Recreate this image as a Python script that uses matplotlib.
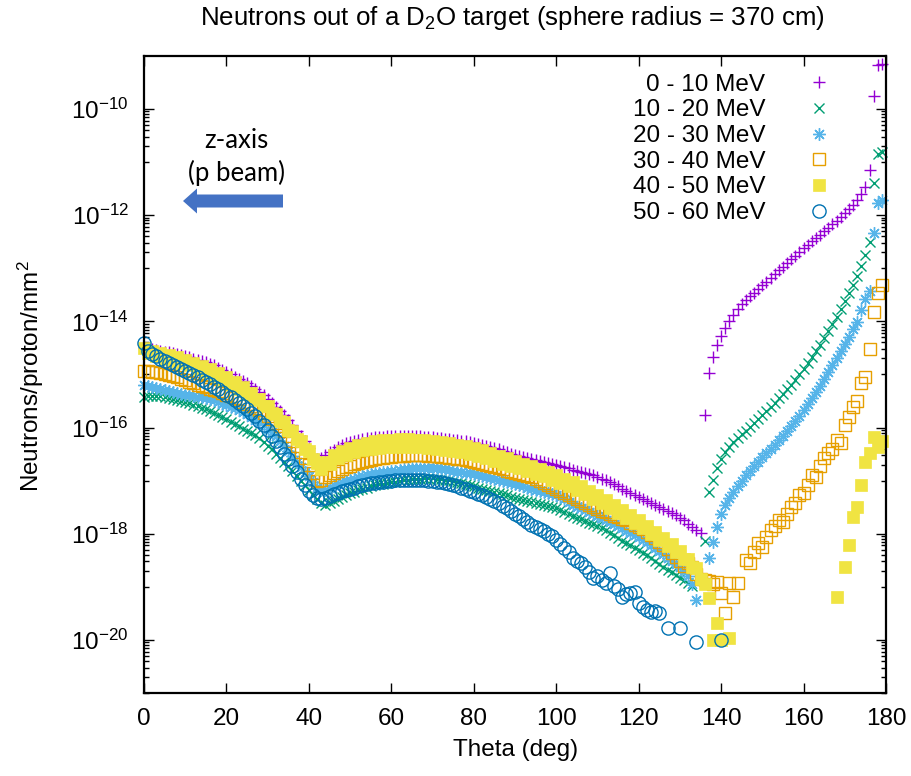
import numpy as np
import matplotlib
matplotlib.use("Agg")
import matplotlib.pyplot as plt
from matplotlib.ticker import FixedLocator, FuncFormatter, NullFormatter, NullLocator
from matplotlib.patches import FancyArrow

nan = float("nan")

# Polar angle of the scoring bins (deg)
theta = list(range(180))

# log10 of the neutron fluence (neutrons / proton / mm^2) per energy bin
log_flux_0_10 = [
    -14.50, -14.51, -14.52, -14.54, -14.55, -14.57, -14.58, -14.60, -14.62, -14.64,
    -14.66, -14.68, -14.70, -14.72, -14.74, -14.77, -14.80, -14.83, -14.87, -14.92,
    -14.96, -15.00, -15.04, -15.08, -15.12, -15.16, -15.21, -15.27, -15.33, -15.39,
    -15.46, -15.53, -15.61, -15.69, -15.77, -15.86, -15.96, -16.06, -16.16, -16.26,
    -16.38, -16.50, -16.60, -16.57, -16.52, -16.47, -16.42, -16.37, -16.33, -16.30,
    -16.27, -16.25, -16.23, -16.21, -16.20, -16.19, -16.18, -16.17, -16.17, -16.16,
    -16.16, -16.15, -16.15, -16.15, -16.15, -16.15, -16.16, -16.16, -16.17, -16.17,
    -16.18, -16.19, -16.20, -16.21, -16.22, -16.23, -16.24, -16.25, -16.26, -16.27,
    -16.29, -16.31, -16.33, -16.35, -16.37, -16.39, -16.41, -16.44, -16.47, -16.49,
    -16.51, -16.53, -16.55, -16.57, -16.59, -16.61, -16.63, -16.65, -16.67, -16.69,
    -16.71, -16.73, -16.75, -16.77, -16.80, -16.82, -16.84, -16.86, -16.88, -16.90,
    -16.93, -16.96, -16.99, -17.03, -17.07, -17.11, -17.15, -17.19, -17.23, -17.27,
    -17.31, -17.35, -17.39, -17.43, -17.46, -17.50, -17.53, -17.57, -17.61, -17.65,
    -17.70, -17.75, -17.81, -17.87, -17.93, -17.99, -15.76, -14.97, -14.67, -14.44,
    -14.27, -14.12, -13.99, -13.88, -13.76, -13.68, -13.60, -13.53, -13.46, -13.39,
    -13.32, -13.25, -13.18, -13.11, -13.04, -12.97, -12.90, -12.83, -12.76, -12.69,
    -12.62, -12.56, -12.49, -12.43, -12.37, -12.30, -12.24, -12.17, -12.10, -12.03,
    -11.96, -11.88, -11.80, -11.71, -11.60, -11.47, -11.15, -9.75, -9.17, -9.15,
]

log_flux_10_20 = [
    -15.42, -15.41, -15.40, -15.40, -15.41, -15.42, -15.44, -15.46, -15.48, -15.50,
    -15.52, -15.54, -15.57, -15.60, -15.63, -15.66, -15.69, -15.72, -15.76, -15.80,
    -15.84, -15.89, -15.94, -15.98, -16.02, -16.06, -16.10, -16.14, -16.20, -16.27,
    -16.34, -16.41, -16.49, -16.57, -16.65, -16.73, -16.82, -16.91, -17.00, -17.09,
    -17.18, -17.27, -17.35, -17.42, -17.45, -17.43, -17.39, -17.35, -17.31, -17.28,
    -17.24, -17.21, -17.18, -17.15, -17.13, -17.11, -17.09, -17.07, -17.06, -17.04,
    -17.03, -17.02, -17.00, -16.99, -16.98, -16.97, -16.96, -16.96, -16.95, -16.95,
    -16.95, -16.96, -16.97, -16.98, -16.99, -17.01, -17.03, -17.05, -17.07, -17.09,
    -17.11, -17.13, -17.15, -17.17, -17.20, -17.22, -17.24, -17.26, -17.28, -17.30,
    -17.32, -17.34, -17.36, -17.38, -17.40, -17.42, -17.44, -17.46, -17.48, -17.50,
    -17.52, -17.55, -17.59, -17.63, -17.67, -17.70, -17.73, -17.76, -17.79, -17.82,
    -17.85, -17.89, -17.93, -17.98, -18.03, -18.08, -18.13, -18.17, -18.22, -18.26,
    -18.31, -18.36, -18.41, -18.46, -18.52, -18.57, -18.63, -18.68, -18.73, -18.78,
    -18.83, -18.88, -18.93, -18.98, nan, nan, -18.14, -17.22, -16.99, -16.76,
    -16.60, -16.47, -16.37, -16.28, -16.20, -16.13, -16.06, -15.99, -15.91, -15.84,
    -15.76, -15.69, -15.61, -15.53, -15.45, -15.37, -15.28, -15.19, -15.10, -15.00,
    -14.90, -14.79, -14.68, -14.56, -14.44, -14.31, -14.18, -14.05, -13.91, -13.77,
    -13.62, -13.47, -13.31, -13.15, -12.95, -12.75, -12.50, -11.39, -10.85, -10.80,
]

log_flux_20_30 = [
    -15.20, -15.22, -15.24, -15.26, -15.28, -15.30, -15.32, -15.33, -15.35, -15.36,
    -15.38, -15.39, -15.40, -15.42, -15.43, -15.45, -15.47, -15.49, -15.52, -15.55,
    -15.58, -15.61, -15.64, -15.67, -15.71, -15.75, -15.80, -15.85, -15.90, -15.96,
    -16.02, -16.08, -16.16, -16.25, -16.34, -16.44, -16.54, -16.64, -16.74, -16.83,
    -16.92, -17.02, -17.12, -17.18, -17.17, -17.13, -17.09, -17.06, -17.03, -17.01,
    -16.98, -16.96, -16.94, -16.92, -16.90, -16.88, -16.86, -16.85, -16.84, -16.83,
    -16.82, -16.81, -16.80, -16.79, -16.78, -16.77, -16.77, -16.76, -16.76, -16.76,
    -16.77, -16.77, -16.78, -16.79, -16.80, -16.81, -16.83, -16.84, -16.85, -16.86,
    -16.88, -16.89, -16.91, -16.93, -16.95, -16.97, -16.99, -17.01, -17.03, -17.05,
    -17.07, -17.09, -17.11, -17.13, -17.15, -17.17, -17.19, -17.21, -17.23, -17.25,
    -17.28, -17.31, -17.35, -17.40, -17.45, -17.49, -17.52, -17.56, -17.59, -17.63,
    -17.66, -17.70, -17.74, -17.78, -17.82, -17.86, -17.90, -17.94, -17.98, -18.02,
    -18.06, -18.11, -18.16, -18.21, -18.27, -18.33, -18.39, -18.45, -18.51, -18.57,
    -18.63, -18.70, -18.80, -18.95, -19.25, nan, nan, -18.46, -18.16, -17.87,
    -17.62, -17.45, -17.33, -17.21, -17.10, -17.00, -16.90, -16.81, -16.72, -16.64,
    -16.56, -16.48, -16.40, -16.32, -16.24, -16.16, -16.07, -15.98, -15.88, -15.78,
    -15.67, -15.56, -15.45, -15.33, -15.21, -15.08, -14.95, -14.82, -14.69, -14.56,
    -14.43, -14.29, -14.15, -14.01, -13.78, -13.58, -13.42, -12.33, -11.77, -11.72,
]

log_flux_30_40 = [
    -14.93, -14.94, -14.95, -14.96, -14.97, -14.99, -15.01, -15.03, -15.05, -15.08,
    -15.11, -15.14, -15.16, -15.19, -15.21, -15.24, -15.27, -15.29, -15.32, -15.35,
    -15.38, -15.41, -15.44, -15.47, -15.51, -15.55, -15.59, -15.63, -15.67, -15.72,
    -15.78, -15.84, -15.91, -15.98, -16.06, -16.15, -16.25, -16.35, -16.46, -16.57,
    -16.70, -16.85, -17.00, -16.98, -16.93, -16.89, -16.85, -16.81, -16.78, -16.75,
    -16.72, -16.69, -16.67, -16.65, -16.63, -16.61, -16.59, -16.58, -16.57, -16.56,
    -16.55, -16.54, -16.53, -16.53, -16.52, -16.52, -16.52, -16.52, -16.52, -16.53,
    -16.53, -16.54, -16.55, -16.56, -16.57, -16.58, -16.59, -16.60, -16.62, -16.63,
    -16.65, -16.67, -16.69, -16.71, -16.73, -16.75, -16.77, -16.79, -16.81, -16.83,
    -16.85, -16.87, -16.89, -16.91, -16.94, -16.97, -17.00, -17.04, -17.08, -17.12,
    -17.16, -17.19, -17.23, -17.27, -17.30, -17.34, -17.38, -17.42, -17.46, -17.50,
    -17.54, -17.57, -17.60, -17.63, -17.66, -17.69, -17.72, -17.75, -17.79, -17.83,
    -17.87, -17.92, -17.97, -18.03, -18.09, -18.16, -18.22, -18.29, -18.36, -18.44,
    -18.52, -18.60, -18.55, -18.62, -18.75, -18.85, -18.87, -18.90, -18.95, -18.91,
    -19.12, -19.49, -18.93, -19.19, -18.93, nan, -18.50, -18.55, -18.35, -18.18,
    -18.25, -18.06, -17.93, -17.85, -17.74, -17.78, -17.62, -17.50, -17.42, -17.28,
    -17.23, -17.08, -16.90, -16.93, -16.72, -16.58, -16.48, -16.40, -16.23, -16.29,
    -15.95, -15.80, -15.62, -15.50, -15.16, -15.05, -14.52, -13.82, -13.47, -13.31,
]

log_flux_40_50 = [
    -14.50, -14.60, -14.55, -14.66, -14.60, -14.70, -14.64, -14.74, -14.68, -14.78,
    -14.72, -14.83, -14.78, -14.89, -14.84, -14.95, -14.90, -15.02, -14.97, -15.10,
    -15.05, -15.18, -15.14, -15.27, -15.24, -15.37, -15.35, -15.48, -15.46, -15.60,
    -15.59, -15.73, -15.74, -15.88, -15.90, -16.04, -16.06, -16.22, -16.25, -16.40,
    -16.44, -16.60, -16.66, -16.78, -16.64, -16.68, -16.52, -16.58, -16.44, -16.52,
    -16.38, -16.47, -16.33, -16.43, -16.29, -16.40, -16.26, -16.38, -16.24, -16.37,
    -16.23, -16.36, -16.22, -16.36, -16.22, -16.36, -16.23, -16.37, -16.24, -16.38,
    -16.25, -16.40, -16.27, -16.42, -16.29, -16.44, -16.32, -16.47, -16.35, -16.50,
    -16.39, -16.54, -16.43, -16.58, -16.48, -16.63, -16.53, -16.68, -16.58, -16.73,
    -16.63, -16.77, -16.68, -16.82, -16.73, -16.87, -16.78, -16.92, -16.84, -16.98,
    -16.90, -17.04, -16.96, -17.10, -17.03, -17.17, -17.11, -17.25, -17.19, -17.34,
    -17.28, -17.43, -17.37, -17.52, -17.46, -17.61, -17.55, -17.70, -17.65, -17.80,
    -17.75, -17.90, -17.86, -18.01, -17.97, -18.12, -18.08, -18.23, -18.20, -18.35,
    -18.33, -18.48, -18.47, -18.62, -18.65, -18.85, -18.95, -19.22, -20.00, -19.68,
    -20.00, nan, -19.97, nan, nan, nan, nan, nan, nan, nan,
    nan, nan, nan, nan, nan, nan, nan, nan, nan, nan,
    nan, nan, nan, nan, nan, nan, nan, nan, -19.19, nan,
    -18.63, -18.21, -17.68, -17.50, -17.08, -16.65, -16.48, -16.18, -16.36, -16.25,
]

log_flux_50_60 = [
    -14.40, -14.55, -14.62, -14.66, -14.70, -14.74, -14.78, -14.82, -14.86, -14.90,
    -14.94, -14.97, -15.01, -15.05, -15.10, -15.14, -15.18, -15.23, -15.28, -15.33,
    -15.38, -15.43, -15.48, -15.53, -15.59, -15.65, -15.72, -15.79, -15.87, -15.96,
    -16.05, -16.15, -16.26, -16.37, -16.49, -16.60, -16.72, -16.84, -16.96, -17.08,
    -17.19, -17.27, -17.33, -17.35, -17.32, -17.29, -17.26, -17.23, -17.20, -17.18,
    -17.15, -17.13, -17.11, -17.09, -17.07, -17.05, -17.04, -17.03, -17.02, -17.01,
    -17.00, -16.99, -16.99, -16.98, -16.98, -16.98, -16.98, -16.99, -16.99, -17.00,
    -17.01, -17.02, -17.03, -17.05, -17.07, -17.09, -17.11, -17.13, -17.16, -17.19,
    -17.22, -17.25, -17.28, -17.31, -17.35, -17.39, -17.43, -17.47, -17.52, -17.57,
    -17.62, -17.67, -17.73, -17.78, -17.83, -17.87, -17.91, -17.95, -18.00, -18.05,
    -18.12, -18.20, -18.27, -18.35, -18.45, -18.52, -18.56, -18.62, -18.72, -18.83,
    -18.79, -18.88, -18.93, -18.74, -18.98, -19.05, -19.19, -19.14, -19.12, -19.10,
    -19.30, -19.38, -19.44, -19.47, -19.46, -19.49, nan, -19.77, nan, nan,
    -19.77, nan, nan, nan, -20.04, nan, nan, nan, nan, nan,
    -20.00, nan, nan, nan, nan, nan, nan, nan, nan, nan,
    nan, nan, nan, nan, nan, nan, nan, nan, nan, nan,
    nan, nan, nan, nan, nan, nan, nan, nan, nan, nan,
    nan, nan, nan, nan, nan, nan, nan, nan, nan, nan,
]

energy_labels = ["0 - 10 MeV", "10 - 20 MeV", "20 - 30 MeV",
                 "30 - 40 MeV", "40 - 50 MeV", "50 - 60 MeV"]
series_values = [log_flux_0_10, log_flux_10_20, log_flux_20_30,
                 log_flux_30_40, log_flux_40_50, log_flux_50_60]

marker_styles = [
    dict(marker="+", markersize=8, markeredgewidth=1.0, color="#9400d3"),
    dict(marker="x", markersize=7.5, markeredgewidth=1.0, color="#009e73"),
    dict(marker=(8, 2, 0), markersize=9, markeredgewidth=1.0, color="#56b4e9"),
    dict(marker="s", markersize=8.5, markeredgewidth=1.0, color="#e69f00",
         markerfacecolor="none"),
    dict(marker="s", markersize=8, markeredgewidth=0.5, color="#f0e442"),
    dict(marker="o", markersize=9.5, markeredgewidth=1.0, color="#0072b2",
         markerfacecolor="none"),
]

plt.rcParams.update({
    "font.family": ["Liberation Sans", "DejaVu Sans"],
    "mathtext.fontset": "custom",
    "mathtext.rm": "Liberation Sans",
    "mathtext.it": "Liberation Sans:italic",
    "mathtext.bf": "Liberation Sans:bold",
})

fig = plt.figure(figsize=(9.12, 7.76), dpi=100)
ax = fig.add_axes([0.1579, 0.1070, 0.8136, 0.8209])

for label, logv, style in zip(energy_labels, series_values, marker_styles):
    y = 10.0 ** np.asarray(logv, dtype=float)
    ax.plot(theta, y, linestyle="none", label=label, clip_on=False, **style)

ax.set_yscale("log")
ax.set_xlim(0, 180)
ax.set_ylim(1e-21, 1e-9)

ax.set_xticks(range(0, 181, 20))
ax.xaxis.set_minor_locator(NullLocator())
ax.yaxis.set_major_locator(FixedLocator(10.0 ** np.arange(-20, -9, 2)))
ax.yaxis.set_major_formatter(FuncFormatter(
    lambda v, pos: r"$\mathregular{10^{%d}}$" % round(np.log10(v))))
minor = [k * 10.0 ** e for e in range(-21, -10, 2) for k in range(1, 10)]
ax.yaxis.set_minor_locator(FixedLocator(minor))
ax.yaxis.set_minor_formatter(NullFormatter())

ax.tick_params(which="both", direction="in", top=True, right=True,
               width=1.0, colors="black")
ax.tick_params(which="major", length=7, labelsize=17.5, pad=11)
ax.tick_params(which="minor", length=3.5)
for sp in ax.spines.values():
    sp.set_linewidth(1.6)

fig.text(512 / 912, 1 - 18 / 776,
         r"Neutrons out of a D$_2$O target (sphere radius = 370 cm)",
         ha="center", va="center", fontsize=18.6)
fig.text(516 / 912, 1 - 750 / 776, "Theta (deg)",
         ha="center", va="center", fontsize=17.5)
fig.text(31 / 912, 1 - 376 / 776, r"Neutrons/proton/mm$^2$",
         ha="center", va="center", rotation=90, fontsize=17.5)

leg = ax.legend(loc="upper right", bbox_to_anchor=(0.942, 0.972),
                markerfirst=False, frameon=False, fontsize=17.5,
                handlelength=2.0, handletextpad=1.2, labelspacing=0.15,
                borderaxespad=0, borderpad=0, numpoints=1)

# Beam direction annotation
fig.text(236 / 912, 1 - 140 / 776, "z-axis", ha="center", va="center",
         fontsize=18.5, family=["Lato", "DejaVu Sans"])
fig.text(236 / 912, 1 - 173 / 776, "(p beam)", ha="center", va="center",
         fontsize=18.5, family=["Lato", "DejaVu Sans"])
fig.add_artist(FancyArrow(283 / 912, 1 - 201 / 776, -100 / 912, 0,
                          width=13 / 776, head_width=25 / 776,
                          head_length=14 / 912, length_includes_head=True,
                          transform=fig.transFigure, color="#4472c4",
                          linewidth=0))

fig.savefig("out.png", dpi=100)
